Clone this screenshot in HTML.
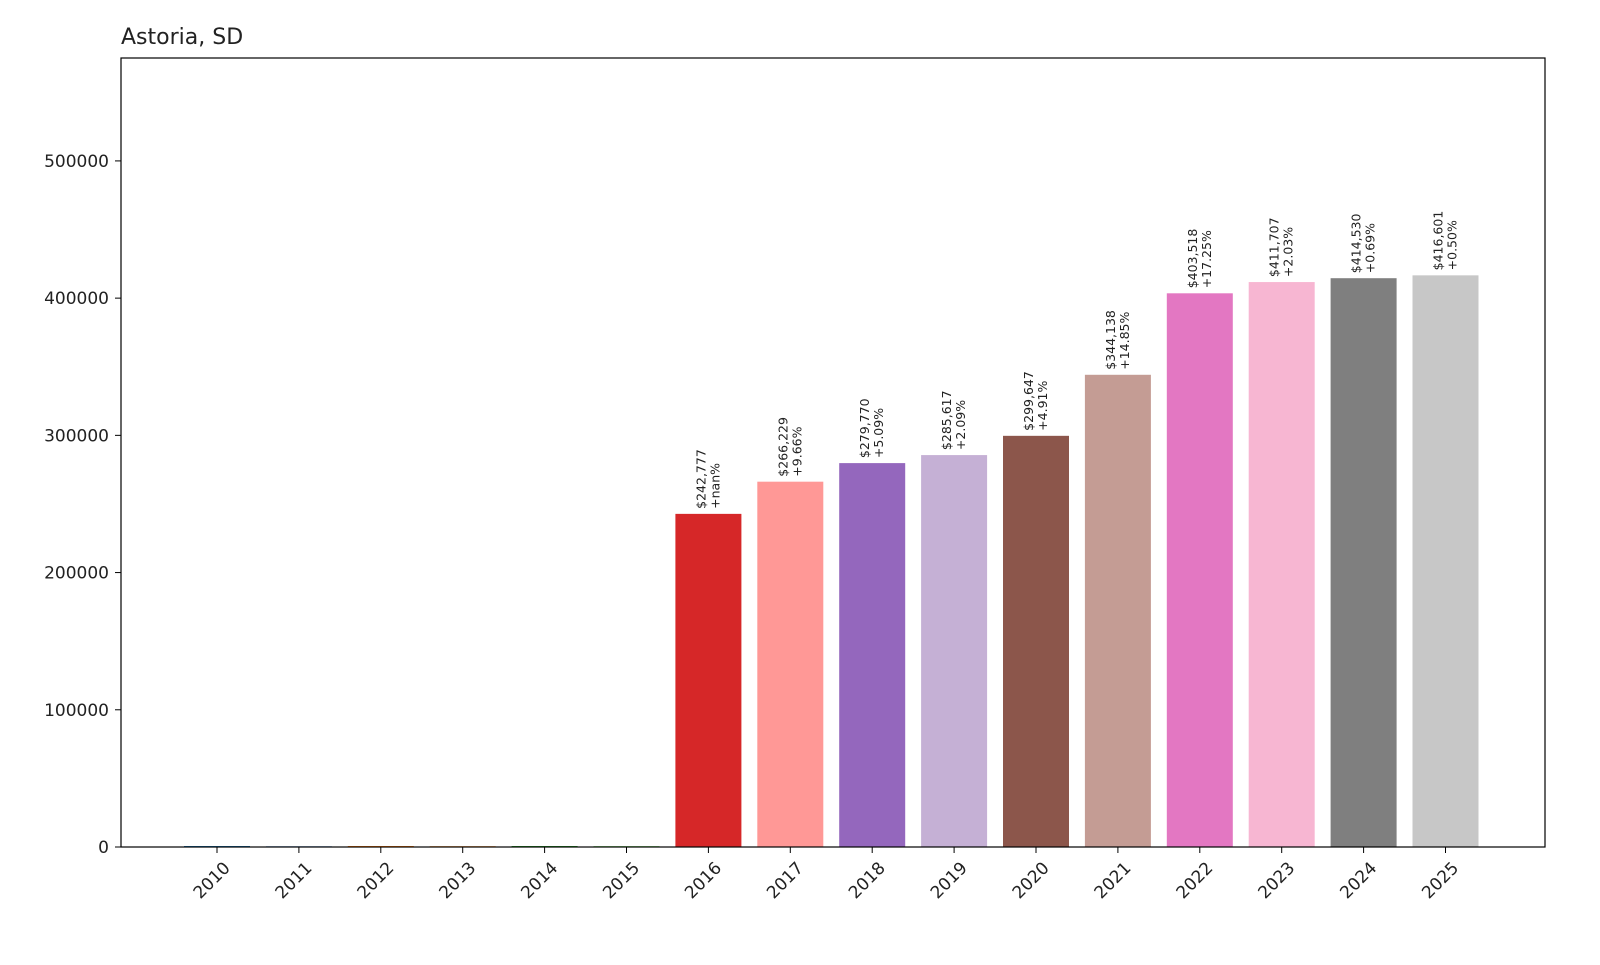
<!DOCTYPE html>
<html><head><meta charset="utf-8"><style>body{margin:0;background:#fff}svg text{font-family:"DejaVu Sans","Liberation Sans",sans-serif}</style></head>
<body>
<svg id="chart" width="1600" height="960" xmlns="http://www.w3.org/2000/svg">
<rect width="1600" height="960" fill="#fff"/>
<text x="121" y="44" font-size="22" fill="#222">Astoria, SD</text>
<g id="bars"></g><g id="yaxis"></g><g id="xaxis"></g><g id="labels"></g>
<rect x="121" y="58" width="1424" height="789" fill="none" stroke="#000" stroke-width="1.2"/>
</svg>
<script>
const years=["2010","2011","2012","2013","2014","2015","2016","2017","2018","2019","2020","2021","2022","2023","2024","2025"];
const values=[0,0,0,0,0,0,242777,266229,279770,285617,299647,344138,403518,411707,414530,416601];
const changes=["","","","","","","+nan%","+9.66%","+5.09%","+2.09%","+4.91%","+14.85%","+17.25%","+2.03%","+0.69%","+0.50%"];
const yTicks=[0,100000,200000,300000,400000,500000];
const colors=["#1f77b4","#aec7e8","#ff7f0e","#ffbb78","#2ca02c","#98df8a","#d62728","#ff9896","#9467bd","#c5b0d5","#8c564b","#c49c94","#e377c2","#f7b6d2","#7f7f7f","#c7c7c7"];
const NS="http://www.w3.org/2000/svg";
const x0=121,x1=1545,yTop=58,yBot=847,yMax=575000;
const step=81.9,first=217,bw=66;
const X=i=>first+i*step;
const Y=v=>yBot-(v/yMax)*(yBot-yTop);
function el(t,a,p,txt){const e=document.createElementNS(NS,t);for(const k in a)e.setAttribute(k,a[k]);if(txt!==undefined)e.textContent=txt;p.appendChild(e);return e;}
const gb=document.getElementById('bars'),gy=document.getElementById('yaxis'),gx=document.getElementById('xaxis'),gl=document.getElementById('labels');
values.forEach((v,i)=>{
 const h=Math.max(yBot-Y(v),1);
 const r=el('rect',{x:X(i)-bw/2,y:yBot-h,width:bw,height:h,fill:colors[i]},gb);
 
 
 if(v>0){
  const lx=X(i),ly=Y(v)-5;
  const t=el('text',{x:0,y:0,'font-size':12.5,fill:'#222',transform:`translate(${lx},${ly}) rotate(-90)`},gl);
  
  
  el('tspan',{x:0,dy:-3},t,'$'+v.toLocaleString('en-US'));
  el('tspan',{x:0,dy:14},t,changes[i]);
 }
 const tk=el('line',{x1:X(i),x2:X(i),y1:yBot,y2:yBot+6,stroke:'#000'},gx);
 
 
 const tl=el('text',{'font-size':17,fill:'#222','text-anchor':'end',transform:`translate(${X(i)+14},${yBot+22}) rotate(-45)`},gx,years[i]);
 
 
});
yTicks.forEach(v=>{
 const tk=el('line',{x1:x0-6,x2:x0,y1:Y(v),y2:Y(v),stroke:'#000'},gy);
 
 
 const tl=el('text',{x:x0-12,y:Y(v)+6,'font-size':17,fill:'#222','text-anchor':'end'},gy,String(v));
 
 
});
</script>
</body></html>
